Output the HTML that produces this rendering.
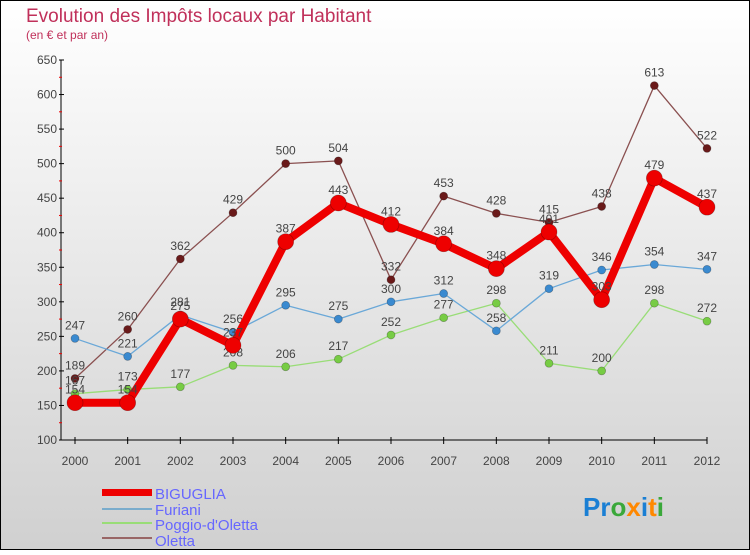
<!DOCTYPE html>
<html><head><meta charset="utf-8"><style>
body{margin:0}
svg text{font-family:"Liberation Sans",sans-serif}
</style></head><body>
<svg id="chart" width="750" height="550" xmlns="http://www.w3.org/2000/svg">
<defs><linearGradient id="bg" x1="0" y1="0" x2="0" y2="1"><stop offset="0" stop-color="#ffffff"/><stop offset="1" stop-color="#d0d0d0"/></linearGradient></defs>
<rect x="0.5" y="0.5" width="749" height="549" fill="url(#bg)" stroke="#000"/>
<text x="26" y="22" font-size="19" fill="#c0305a">Evolution des Impôts locaux par Habitant</text>
<text x="26" y="39" font-size="12" fill="#c0305a">(en € et par an)</text>
<g id="axes"></g>
<g id="series"></g>
<g id="legend">
<rect x="102" y="489" width="50" height="7" fill="#e00"/>
<text x="155" y="499" font-size="15" fill="#6666ff">BIGUGLIA</text>
<rect x="102" y="508" width="50" height="2" fill="#7aaccc"/>
<text x="155" y="515" font-size="15" fill="#6666ff">Furiani</text>
<rect x="102" y="522" width="50" height="2" fill="#99dd77"/>
<text x="155" y="530" font-size="15" fill="#6666ff">Poggio-d'Oletta</text>
<rect x="102" y="537" width="50" height="2" fill="#996666"/>
<text x="155" y="546" font-size="15" fill="#6666ff">Oletta</text>
</g>
<text x="583" y="516" font-size="26" font-weight="bold"><tspan fill="#1a7fd4">Pr</tspan><tspan fill="#3aa83a">o</tspan><tspan fill="#ff8800">x</tspan><tspan fill="#1a7fd4">i</tspan><tspan fill="#ff8800">t</tspan><tspan fill="#3aa83a">i</tspan></text>
</svg>
<script>
const years=[2000,2001,2002,2003,2004,2005,2006,2007,2008,2009,2010,2011,2012];
const yTicks=[100,150,200,250,300,350,400,450,500,550,600,650];
const biguglia=[154,154,275,237,387,443,412,384,348,401,303,479,437];
const furiani=[247,221,281,256,295,275,300,312,258,319,346,354,347];
const poggio=[167,173,177,208,206,217,252,277,298,211,200,298,272];
const oletta=[189,260,362,429,500,504,332,453,428,415,438,613,522];
const NS="http://www.w3.org/2000/svg";
const X=i=>75+i*(707-75)/12;
const Y=v=>440-(v-100)*(380/550);
function mk(tag,attrs,parent){const e=document.createElementNS(NS,tag);for(const k in attrs)e.setAttribute(k,attrs[k]);parent.appendChild(e);return e;}
const ax=document.getElementById('axes');
let yl=mk('line',{x1:61,y1:Y(650),x2:61,y2:Y(100),stroke:'#000'},ax);


let xl=mk('line',{x1:61,y1:Y(100),x2:707,y2:Y(100),stroke:'#000'},ax);


yTicks.forEach((t,i)=>{
 mk('line',{x1:59,y1:Y(t),x2:64,y2:Y(t),stroke:'#000'},ax);
 if(i<yTicks.length-1)mk('line',{x1:59,y1:Y(t+25),x2:62,y2:Y(t+25),stroke:'#e00'},ax);
 const tx=mk('text',{x:57,y:Y(t)+4,'font-size':12,fill:'#444','text-anchor':'end'},ax);
 tx.textContent=t;
 
 
});
years.forEach((yr,i)=>{
 mk('line',{x1:X(i),y1:Y(100)-3,x2:X(i),y2:Y(100)+4,stroke:'#000'},ax);
 const tx=mk('text',{x:X(i),y:Y(100)+25,'font-size':12,fill:'#444','text-anchor':'middle'},ax);
 tx.textContent=yr;
 
 
});
const sg=document.getElementById('series');
function series(name,data,color,dot,w,r){
 const g=mk('g',{},sg);
 
 
 const p=mk('polyline',{points:data.map((v,i)=>X(i)+','+Y(v)).join(' '),fill:'none',stroke:color,'stroke-width':w,'stroke-linejoin':'round'},g);
 
 
 data.forEach((v,i)=>{
  const c=mk('circle',{cx:X(i),cy:Y(v),r:r,fill:dot,stroke:'rgba(0,0,0,0.3)','stroke-width':0.7},g);
  
  
  const t=mk('text',{x:X(i),y:Y(v)-9,'font-size':12,fill:'#444','text-anchor':'middle'},g);
  t.textContent=v;
  
  
 });
}
series('oletta',oletta,'#8a5050','#6a1a1a',1.3,4);
series('poggio',poggio,'#99dd77','#77cc44',1.3,4);
series('furiani',furiani,'#6aa8d8','#3a8ad0',1.3,4);
series('biguglia',biguglia,'#ee0000','#ee0000',8,8);
</script>
</body></html>
